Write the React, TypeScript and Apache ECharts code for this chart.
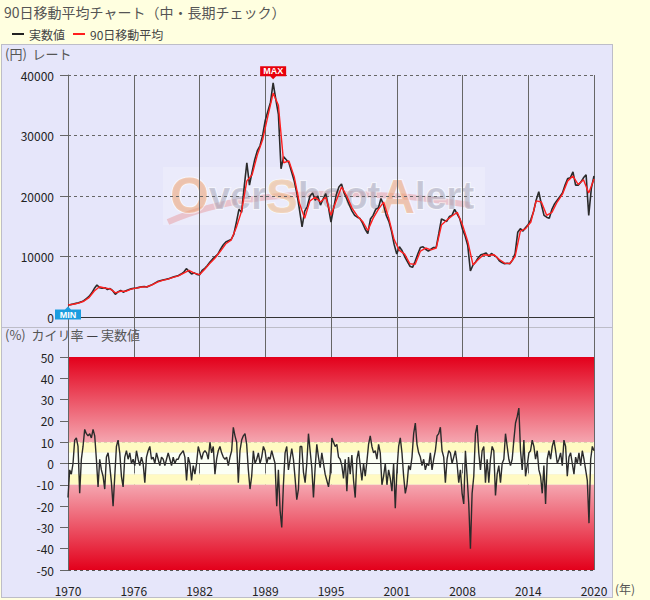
import React, { useEffect, useRef } from 'react';
import * as echarts from 'echarts';

// ---- data ----
const yearLabels = ['1970', '1976', '1982', '1989', '1995', '2001', '2008', '2014', '2020'];
const axisSpanYears = 50; // 1970 .. 2020 on the axis

// actual rate, one value every 0.25 axis-year from 1970
const actualStep = 0.25;
const actualValues = [
  1980, 2050, 2150, 2250,
  2350, 2500, 2700, 3050,
  3400, 3950, 4700, 5300,
  4850, 4750, 4850, 4550,
  4700, 4350, 3750, 4150,
  4400, 4100, 4350, 4500,
  4650, 4750, 4800, 4900,
  5000, 5050, 4950, 5150,
  5350, 5600, 5850, 6000,
  6100, 6200, 6300, 6450,
  6600, 6750, 6850, 7100,
  7400, 8000, 7550, 7100,
  7300, 7050, 6950, 7700,
  8050, 8500, 9100, 9600,
  10000, 10400, 11200, 11900,
  12400, 12600, 12800, 13600,
  15600, 17800, 17300, 21500,
  25500, 21800, 24000, 26000,
  27500, 28300, 30000, 32500,
  34000, 35500, 38700, 36000,
  33500, 24500, 26500, 26000,
  25500, 24000, 22500, 20500,
  17800, 14900, 17500, 18300,
  20000, 20500, 19300, 20000,
  18500, 19500, 20400, 18200,
  15700, 18000, 20200, 21500,
  22000, 20500, 19500, 18500,
  17500, 16800, 16500, 16300,
  15500, 14500, 13800, 16200,
  16800, 17800, 18000, 19600,
  18500, 16800, 15800, 14200,
  12000, 10400, 11600, 11000,
  10000, 9200, 8400, 8200,
  9200, 10400, 11500, 11600,
  11200, 10900, 11200, 11500,
  11500, 13800, 16200, 16000,
  15800, 16600, 16800, 17800,
  17000, 16200, 14500, 13400,
  11800, 7600, 8600, 9100,
  9800, 10300, 10400, 10600,
  10000, 10500, 10200, 9900,
  9300, 9000, 8800, 8900,
  8800, 9400, 10500, 14000,
  14600, 14200, 14800, 15300,
  16100, 17400, 19300, 20700,
  18600, 16800, 16500, 16300,
  17800, 18700, 19300, 19900,
  20500, 21800, 22900, 23000,
  24000, 21800, 21800, 22300,
  23000, 23500, 16800, 21300,
  23300,
];

// 90-day moving average, one value every 0.5 axis-year from 1970
const maStep = 0.5;
const maValues = [
  2000, 2100, 2300, 2600, 3200, 4300, 5000, 4800, 4650, 4000,
  4250, 4250, 4600, 4780, 4950, 5000, 5300, 5750, 6050, 6250,
  6550, 6800, 7250, 7700, 7250, 7000, 7900, 8900, 9800, 10900,
  12100, 12700, 14800, 17500, 22500, 23500, 26800, 29300, 33200, 37000,
  35000, 25500, 25800, 23200, 18800, 16300, 19200, 19800, 19000, 19800,
  16800, 19200, 21500, 20000, 18000, 16700, 15800, 14300, 16300, 17800,
  19000, 16300, 12800, 11000, 10400, 8800, 8700, 10900, 11400, 11100,
  11400, 15200, 16000, 16700, 17300, 15200, 12500, 8600, 9500, 10300,
  10200, 10300, 9500, 8900, 8850, 10000, 14200, 14600, 15700, 19200,
  19000, 16800, 17300, 19000, 20300, 22500, 23300, 21900, 22700, 20500,
  22800,
];

// deviation (%) from the moving average, evenly spaced across 1970..2020
const devValues = [
  -16, -3, -5, 0, 11, 12, 8, -14, 2, 8,
  16, 14, 13, 14, 12, 16, 13, 2, -11, 2,
  -3, -6, -12, 3, 5, -1, -9, -20, -6, 8,
  11, 5, -6, -11, 3, 6, 2, 5, 0, 2,
  -1, 6, 2, -1, 3, 0, -9, 3, 6, 8,
  2, 3, 0, 5, 2, -1, 3, 2, -1, 2,
  5, 2, -1, 3, 0, 2, 2, 4, 5, 6,
  3, -8, 3, 0, -8, -1, -5, 0, 8, 5,
  2, 5, 6, 5, 2, 10, 5, 8, -5, 2,
  6, 8, 5, 3, 2, 3, -1, 3, 6, 17,
  13, 10, -9, 6, 11, 13, 14,
  9, -3, -12, -6, 6, 0, 2, 5, 0, 3,
  8, 6, 0, 3, 2, 6, 3, 0, -20, -3,
  -22, -30, -10, 5, 8, -3, 2, 7, 2, -7,
  -17, -12, 8, 8, -4, -9, 0, 14, 6, -2,
  -16, -2, 9, 3, -2, 5, 0, -5, -8, -11,
  -5, 12, 10, 8, 9, 3, 2, -1, -7, 2,
  -13, 3, -5, 4, -8, -16, 2, 6, -1, -8,
  0, -6, 1, 9, 13, 8, 5, 6, 2, 9,
  5, -10, -6, 0, -10, -3, -7, -13, 0, -21,
  -3, 8, 12, 5, -6, -14, -10, -1, -3, 3,
  14, 19, 9, 5,
  3, -1, 2, -3, 0, -1, 5, -3, 2, 6,
  13, 14, 17, 6, 3, -9, 2, 6, 5, 0,
  3, 6, 0, -9, -3, -14, -19, 6, -6, -19,
  -40, -14, -6, 14, 18, 5, -3, 6, 8, -9,
  2, -9, 2, 8, 6, -15, -5, -1, -9, 0,
  2, 14, 8, 2, -1, 2, 11, 19, 22, 26,
  6, -3, 11, -6, -1, 5, 6, 11, 8, 2,
  6, -3, -6, -14, -1, -19, 2, 6, 2, 8,
  11, 6, 0, 2, 5, -1, 11, 8, -6, 3,
  5, 0, -5, 3, 0, 5, -1, 6, 2, -3,
  -8, -28, 2, 8, 6,
];

const rateMin = 0;
const rateMax = 40000;
const rateInterval = 10000;
const devMin = -50;
const devMax = 50;
const devInterval = 10;

const FONT = "'Noto Sans CJK JP', 'Noto Sans', sans-serif";

export default function App() {
  const ref = useRef<HTMLDivElement>(null);

  useEffect(() => {
    if (!ref.current) return;
    const chart = echarts.init(ref.current, undefined, { renderer: 'svg' });

    const actualData = actualValues.map((v, i) => [i * actualStep, v]);
    const maData = maValues.map((v, i) => [i * maStep, v]);
    const devStep = axisSpanYears / (devValues.length - 1);
    const devData = devValues.map((v, i) => [i * devStep, v]);
    const tickStep = axisSpanYears / (yearLabels.length - 1);

    const xBase = {
      type: 'value',
      min: 0,
      max: axisSpanYears,
      interval: tickStep,
    };

    // red at the outer edge (±50), pale pink near ±10
    const redAtTop = new echarts.graphic.LinearGradient(0, 0, 0, 1, [
      { offset: 0, color: '#e3001b' },
      { offset: 1, color: '#f5a6b0' },
    ]);
    const redAtBottom = new echarts.graphic.LinearGradient(0, 0, 0, 1, [
      { offset: 0, color: '#f5a6b0' },
      { offset: 1, color: '#e3001b' },
    ]);

    const option: any = {
      animation: false,
      textStyle: { fontFamily: FONT },
      legend: {
        left: 10,
        top: 26,
        data: ['実数値', '90日移動平均'],
        icon: 'rect',
        itemWidth: 12,
        itemHeight: 2,
        itemGap: 8,
        padding: [2, 2],
        textStyle: { fontSize: 12, color: '#444', fontFamily: FONT },
      },
      grid: [
        { left: 68, right: 56, top: 75, height: 242 },
        { left: 68, right: 56, top: 357, height: 213 },
        { left: 68, right: 56, top: 327, height: 30 },
      ],
      xAxis: [
        {
          ...xBase,
          gridIndex: 0,
          axisLine: { show: true, lineStyle: { color: '#333' } },
          axisTick: { show: true, length: 10, lineStyle: { color: '#666' } },
          axisLabel: { show: false },
          splitLine: { show: true, lineStyle: { color: '#666', type: 'solid' } },
        },
        {
          ...xBase,
          gridIndex: 1,
          z: 1,
          axisLine: { show: false },
          axisTick: { show: true, length: 10, lineStyle: { color: '#666' } },
          axisLabel: {
            show: true,
            fontSize: 12,
            color: '#222',
            margin: 14,
            fontFamily: FONT,
            formatter: (v: number) => yearLabels[Math.round(v / tickStep)] ?? '',
          },
          splitLine: { show: true, lineStyle: { color: '#666', type: 'solid' } },
        },
        {
          ...xBase,
          gridIndex: 2,
          axisLine: { show: false },
          axisTick: { show: false },
          axisLabel: { show: false },
          splitLine: { show: true, lineStyle: { color: '#666', type: 'solid' } },
        },
      ],
      yAxis: [
        {
          type: 'value',
          gridIndex: 0,
          min: rateMin,
          max: rateMax,
          interval: rateInterval,
          axisLine: { show: true, lineStyle: { color: '#666' } },
          axisTick: { show: true, length: 8, lineStyle: { color: '#666' } },
          axisLabel: {
            fontSize: 12,
            color: '#222',
            margin: 14,
            fontFamily: FONT,
            formatter: (v: number) => String(v),
          },
          splitLine: { show: true, lineStyle: { color: '#666', type: [3, 3] } },
        },
        {
          type: 'value',
          gridIndex: 1,
          z: 1,
          min: devMin,
          max: devMax,
          interval: devInterval,
          axisLine: { show: true, lineStyle: { color: '#666' } },
          axisTick: { show: true, length: 8, lineStyle: { color: '#666' } },
          axisLabel: {
            fontSize: 12,
            color: '#222',
            margin: 14,
            fontFamily: FONT,
            formatter: (v: number) => String(v),
          },
          splitLine: { show: true, lineStyle: { color: '#555', type: [3, 3] } },
        },
        {
          type: 'value',
          gridIndex: 2,
          show: false,
          min: 0,
          max: 1,
        },
      ],
      series: [
        {
          name: '実数値',
          type: 'line',
          xAxisIndex: 0,
          yAxisIndex: 0,
          data: actualData,
          symbol: 'none',
          lineStyle: { color: '#2b2b2b', width: 1.6 },
          itemStyle: { color: '#222' },
          markPoint: {
            silent: true,
            data: [
              {
                type: 'max',
                symbol: 'path://M0,0H26V10H16L13,13L10,10H0Z',
                symbolSize: [26, 13],
                symbolOffset: [0, -10],
                itemStyle: { color: '#e8000b' },
                label: {
                  show: true,
                  formatter: 'MAX',
                  color: '#fff',
                  fontSize: 9,
                  fontWeight: 'bold',
                  fontFamily: 'Liberation Sans, sans-serif',
                  offset: [0, -1.5],
                },
              },
              {
                type: 'min',
                symbol: 'path://M0,3H10L13,0L16,3H26V13H0Z',
                symbolSize: [26, 13],
                symbolOffset: [0, 8],
                itemStyle: { color: '#1c9ddf' },
                label: {
                  show: true,
                  formatter: 'MIN',
                  color: '#fff',
                  fontSize: 9,
                  fontWeight: 'bold',
                  fontFamily: 'Liberation Sans, sans-serif',
                  offset: [0, 1.5],
                },
              },
            ],
          },
        },
        {
          name: '90日移動平均',
          type: 'line',
          xAxisIndex: 0,
          yAxisIndex: 0,
          data: maData,
          symbol: 'none',
          lineStyle: { color: '#ff1f1f', width: 1.4 },
          itemStyle: { color: '#ff1f1f' },
        },
        {
          name: 'bands',
          type: 'line',
          xAxisIndex: 1,
          yAxisIndex: 1,
          z: 0,
          data: devData,
          symbol: 'none',
          silent: true,
          lineStyle: { opacity: 0 },
          markArea: {
            silent: true,
            data: [
              [{ yAxis: 10, itemStyle: { color: redAtTop } }, { yAxis: 50 }],
              [{ yAxis: 5, itemStyle: { color: '#fffac2' } }, { yAxis: 10 }],
              [{ yAxis: -5, itemStyle: { color: '#fbfff5' } }, { yAxis: 5 }],
              [{ yAxis: -10, itemStyle: { color: '#fffac2' } }, { yAxis: -5 }],
              [{ yAxis: -50, itemStyle: { color: redAtBottom } }, { yAxis: -10 }],
            ],
          },
        },
        {
          name: 'カイリ率',
          type: 'line',
          xAxisIndex: 1,
          yAxisIndex: 1,
          z: 3,
          data: devData,
          symbol: 'none',
          lineStyle: { color: '#2b2b2b', width: 1.4 },
          markLine: {
            silent: true,
            symbol: 'none',
            label: { show: false },
            lineStyle: { color: '#333', type: 'solid', width: 1 },
            data: [{ yAxis: 0 }],
          },
        },
      ],
      graphic: [
        {
          type: 'text',
          left: 4,
          top: 5,
          style: {
            text: '90日移動平均チャート（中・長期チェック）',
            fontSize: 14,
            fontFamily: FONT,
            fill: '#555',
          },
        },
        {
          type: 'text',
          left: 5,
          top: 47,
          style: { text: '(円)  レート', fontSize: 13, fontFamily: FONT, fill: '#555' },
        },
        {
          type: 'text',
          left: 5,
          top: 328,
          style: {
            text: '{a|(%)  カイリ率 }{b|—}{a| 実数値}',
            fontFamily: FONT,
            rich: {
              a: { fontSize: 13, fill: '#555', fontFamily: FONT },
              b: { fontSize: 13, fill: '#111', fontFamily: FONT },
            },
          },
        },
        {
          type: 'text',
          left: 615,
          top: 582,
          style: { text: '(年)', fontSize: 12, fontFamily: FONT, fill: '#555' },
        },
        {
          type: 'group',
          z: 1,
          children: [
            {
              type: 'rect',
              shape: { x: 163, y: 167, width: 322, height: 58 },
              style: { fill: 'rgba(255,255,255,0.22)' },
            },
            {
              type: 'bezierCurve',
              shape: { x1: 168, y1: 222, x2: 470, y2: 205, cpx1: 250, cpy1: 185, cpx2: 380, cpy2: 190 },
              style: { stroke: 'rgba(230,120,120,0.35)', lineWidth: 6, fill: 'none' },
            },
            {
              type: 'text',
              x: 170,
              y: 196,
              style: {
                text: '{o|O}{g|ver}{s|S}{g|hoot}{a|A}{g|lert}',
                verticalAlign: 'middle',
                opacity: 0.55,
                rich: {
                  o: { fontSize: 50, fontWeight: 'bold', fontFamily: 'Liberation Sans', fill: '#eda070', stroke: '#fff', lineWidth: 2 },
                  s: { fontSize: 48, fontWeight: 'bold', fontFamily: 'Liberation Sans', fill: '#efb882', stroke: '#fff', lineWidth: 2 },
                  a: { fontSize: 48, fontWeight: 'bold', fontFamily: 'Liberation Sans', fill: '#eda070', stroke: '#fff', lineWidth: 2 },
                  g: { fontSize: 38, fontWeight: 'bold', fontFamily: 'Liberation Sans', fill: '#a4a4b6', stroke: '#fff', lineWidth: 2 },
                },
              },
            },
          ],
        },
      ],
    };

    chart.setOption(option);
    return () => chart.dispose();
  }, []);

  return (
    <div
      style={{
        position: 'fixed',
        left: 0,
        top: 0,
        width: 650,
        height: 600,
        background: '#ffffe0',
        overflow: 'hidden',
      }}
    >
      <div
        style={{
          position: 'absolute',
          left: 1,
          top: 44,
          width: 612,
          height: 284,
          boxSizing: 'border-box',
          background: '#e6e6fa',
          border: '1px solid #bdbdc8',
        }}
      />
      <div
        style={{
          position: 'absolute',
          left: 1,
          top: 327,
          width: 612,
          height: 271,
          boxSizing: 'border-box',
          background: '#e6e6fa',
          border: '1px solid #bdbdc8',
        }}
      />
      <div ref={ref} style={{ position: 'absolute', left: 0, top: 0, width: 650, height: 600 }} />
    </div>
  );
}
